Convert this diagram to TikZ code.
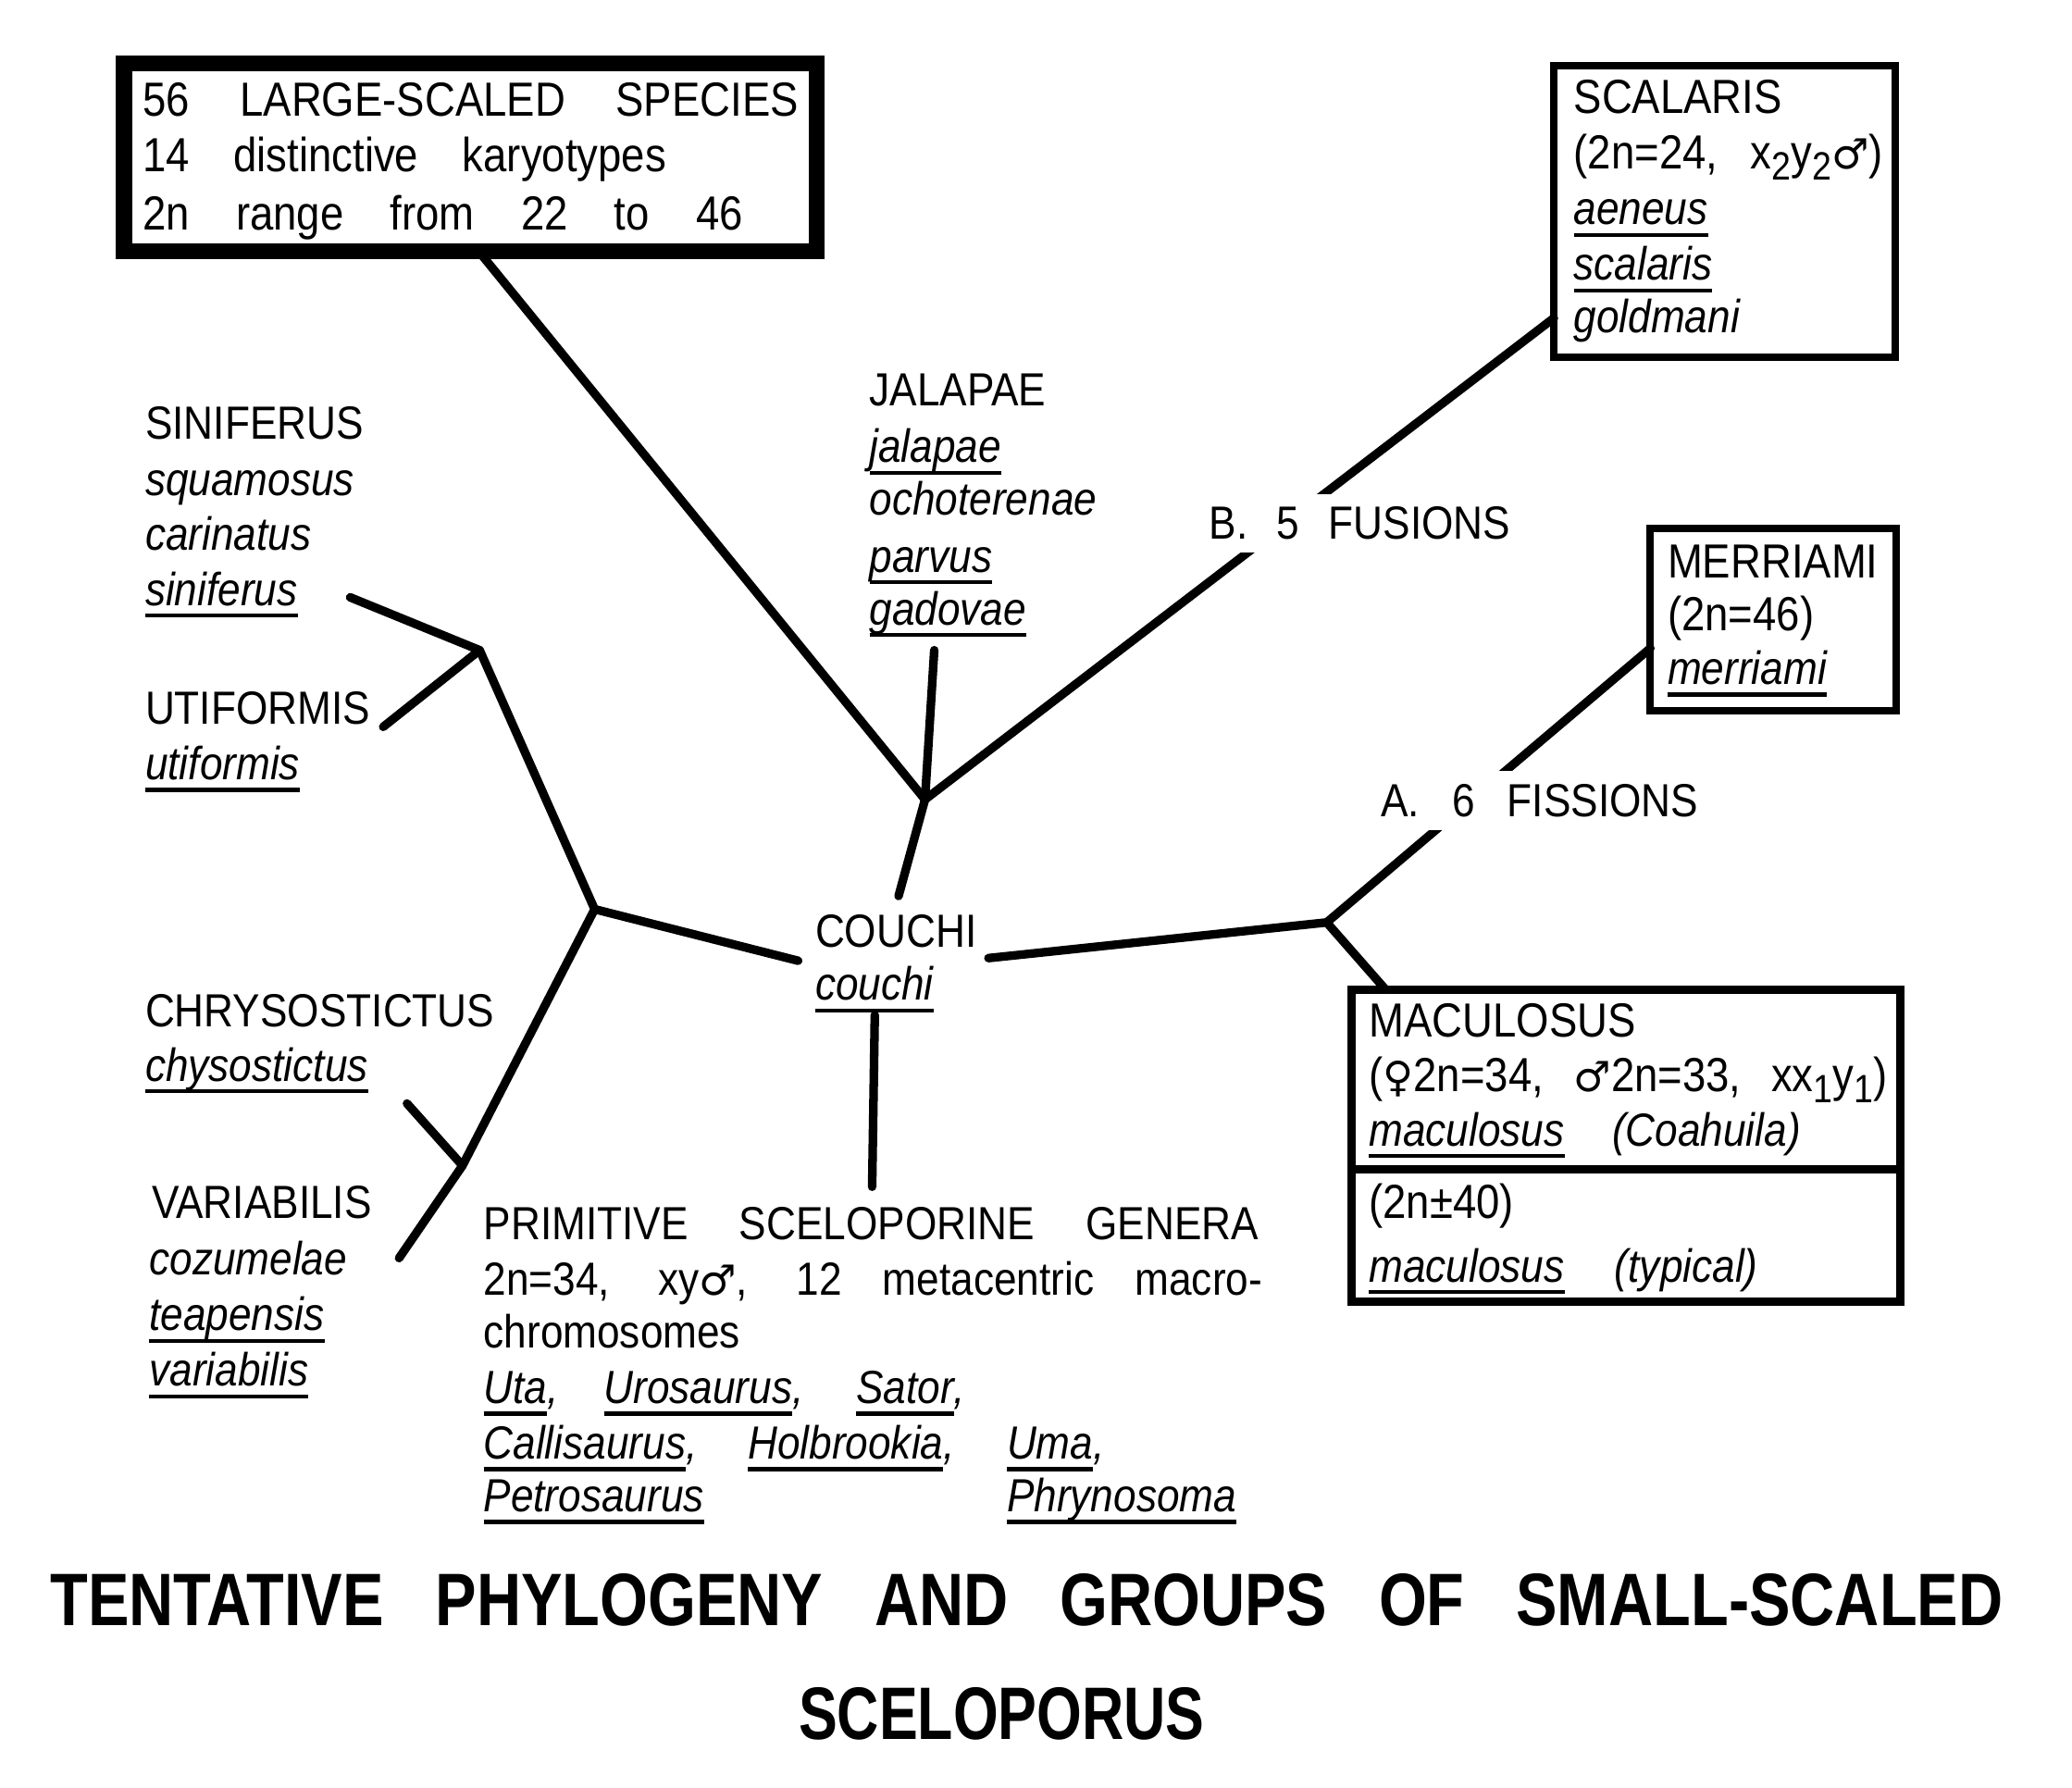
\documentclass[tikz,border=0pt]{standalone}
\usepackage{fontspec}
\setmainfont{Liberation Sans}[FakeStretch=0.88]
\newfontfamily\titlefont{Liberation Sans}[FakeStretch=0.83]
\newfontfamily\subtitlefont{Liberation Sans}[FakeStretch=0.78]
\newfontfamily\symfont{DejaVu Sans}
\newsavebox\undbox
\newcommand\und[1]{\sbox\undbox{#1}\rlap{\rule[-2.6pt]{\wd\undbox}{0.85pt}}\usebox\undbox}
\newcommand\sub[1]{\raisebox{-2.4pt}{\fontsize{8.5}{8.5}\selectfont #1}}
\newcommand\male{{\symfont\fontsize{9}{9}\selectfont ♂}}
\newcommand\female{{\symfont\fontsize{9}{9}\selectfont ♀}}
\begin{document}
\begin{tikzpicture}[x=0.01cm,y=-0.01cm,
  txt/.style={anchor=base west,inner sep=0pt,outer sep=0pt,font=\fontsize{10}{12}\selectfont},
  bigtxt/.style={txt,font=\fontsize{10.3}{12}\selectfont},
  sp/.style={txt,font=\fontsize{10}{12}\selectfont\itshape},
  lab/.style={txt,fill=white,inner ysep=2.8pt},
  ttl/.style={inner sep=0pt,outer sep=0pt,font=\titlefont\bfseries\fontsize{16}{18}\selectfont},
  subttl/.style={inner sep=0pt,outer sep=0pt,font=\subtitlefont\bfseries\fontsize{16}{18}\selectfont},
  branch/.style={line width=1.85pt,line cap=round,line join=round},
  boxline/.style={draw,inner sep=0pt,outer sep=0pt}
]
\path[fill=white,use as bounding box] (0,0) rectangle (1568,1353);

% boxes
\node[boxline,line width=3.4pt,minimum width=5.24cm,minimum height=1.42cm] (big) at (356,119) {};
\node[boxline,line width=1.6pt,minimum width=2.58cm,minimum height=2.20cm] (scal) at (1305,160) {};
\node[boxline,line width=1.6pt,minimum width=1.86cm,minimum height=1.38cm] (mer) at (1342,469) {};
\node[boxline,line width=1.75pt,minimum width=4.15cm,minimum height=2.36cm] (mac) at (1230.5,867) {};
\coordinate (divy) at (0,885);
\draw[line width=1.75pt] (mac.west |- divy) -- (mac.east |- divy);

% junctions and free ends
\coordinate (j1) at (700,605);
\coordinate (jalfoot) at (707,492);
\coordinate (couchitop) at (680,678);
\coordinate (j2) at (1004,698);
\coordinate (couchiright) at (748,725);
\coordinate (couchibottom) at (662,768);
\coordinate (primtop) at (660,898);
\coordinate (couchileft) at (604,727);
\coordinate (j3) at (450,688);
\coordinate (j4) at (363,492);
\coordinate (sinend) at (265,452);
\coordinate (utiend) at (290,550);
\coordinate (j5) at (350,882);
\coordinate (chrend) at (308,835);
\coordinate (varend) at (302,952);

% branches
\draw[branch] (big.-85) -- (j1);
\draw[branch] (jalfoot) -- (j1);
\draw[branch] (j1) -- (scal.212);
\draw[branch] (j1) -- (couchitop);
\draw[branch] (couchiright) -- (j2) -- (mer.193);
\draw[branch] (j2) -- (mac.147);
\draw[branch] (couchibottom) -- (primtop);
\draw[branch] (couchileft) -- (j3) -- (j4) -- (sinend);
\draw[branch] (j4) -- (utiend);
\draw[branch] (j3) -- (j5) -- (chrend);
\draw[branch] (j5) -- (varend);

% large-scaled box text
\node[bigtxt] (b1) at (108,88) {\makebox[4.96cm][s]{56 LARGE-SCALED SPECIES}};
\node[bigtxt] (b2) at (108,130) {\makebox[3.96cm][s]{14 distinctive karyotypes}};
\node[bigtxt] (b3) at (108,174) {\makebox[4.54cm][s]{2n range from 22 to 46}};

% scalaris
\node[bigtxt] (sc1) at (1191,86) {SCALARIS};
\node[bigtxt] (sc2) at (1191,128) {\makebox[2.34cm][s]{(2n=24, x\sub{2}y\sub{2}\male)}};
\node[sp] (sc3) at (1191,170) {\und{aeneus}};
\node[sp] (sc4) at (1191,212) {\und{scalaris}};
\node[sp] (sc5) at (1191,252) {goldmani};

% jalapae
\node[txt] (ja1) at (658,307) {JALAPAE};
\node[sp] (ja2) at (658,350) {\und{jalapae}};
\node[sp] (ja3) at (658,390) {ochoterenae};
\node[sp] (ja4) at (658,433) {\und{parvus}};
\node[sp] (ja5) at (658,473) {\und{gadovae}};

% labels on branches
\node[lab] (fus) at (915,408) {\makebox[2.28cm][s]{B. 5 FUSIONS}};
\node[lab] (fis) at (1045,618) {\makebox[2.40cm][s]{A. 6 FISSIONS}};

% merriami
\node[bigtxt] (me1) at (1262,437) {MERRIAMI};
\node[bigtxt] (me2) at (1262,477) {(2n=46)};
\node[sp] (me3) at (1262,518) {\und{merriami}};

% siniferus
\node[txt] (si1) at (110,332) {SINIFERUS};
\node[sp] (si2) at (110,375) {squamosus};
\node[sp] (si3) at (110,416) {carinatus};
\node[sp] (si4) at (110,458) {\und{siniferus}};

% utiformis
\node[txt] (ut1) at (110,548) {UTIFORMIS};
\node[sp] (ut2) at (110,590) {\und{utiformis}};

% couchi
\node[txt] (co1) at (617,717) {COUCHI};
\node[sp] (co2) at (617,757) {\und{couchi}};

% chrysostictus
\node[txt] (ch1) at (110,777) {CHRYSOSTICTUS};
\node[sp] (ch2) at (110,818) {\und{chysostictus}};

% variabilis
\node[txt] (va1) at (115,922) {VARIABILIS};
\node[sp] (va2) at (113,965) {cozumelae};
\node[sp] (va3) at (113,1007) {\und{teapensis}};
\node[sp] (va4) at (113,1049) {\und{variabilis}};

% maculosus
\node[bigtxt] (ma1) at (1036,785) {MACULOSUS};
\node[bigtxt] (ma2) at (1036,826) {\makebox[3.92cm][s]{(\female2n=34, \male2n=33, xx\sub{1}y\sub{1})}};
\node[sp] (ma3) at (1036,867) {\und{maculosus}};
\node[sp] (ma4) at (1220,867) {(Coahuila)};
\node[bigtxt] (ma5) at (1036,922) {(2n±40)};
\node[sp] (ma6) at (1036,970) {\und{maculosus}};
\node[sp] (ma7) at (1222,970) {(typical)};

% primitive genera
\node[txt] (p1) at (366,938) {\makebox[5.86cm][s]{PRIMITIVE SCELOPORINE GENERA}};
\node[txt] (p2) at (366,980) {\makebox[5.89cm][s]{2n=34, xy\male, 12 metacentric macro-}};
\node[txt] (p3) at (366,1020) {chromosomes};
\node[sp] (p4a) at (366,1062) {\und{Uta},};
\node[sp] (p4b) at (457,1062) {\und{Urosaurus},};
\node[sp] (p4c) at (648,1062) {\und{Sator},};
\node[sp] (p5a) at (366,1104) {\und{Callisaurus},};
\node[sp] (p5b) at (566,1104) {\und{Holbrookia},};
\node[sp] (p5c) at (762,1104) {\und{Uma},};
\node[sp] (p6a) at (366,1144) {\und{Petrosaurus}};
\node[sp] (p6b) at (762,1144) {\und{Phrynosoma}};

% title
\node[ttl,anchor=base west] (t1) at (38,1230) {\makebox[14.77cm][s]{TENTATIVE PHYLOGENY AND GROUPS OF SMALL-SCALED}};
\node[subttl,anchor=base] (t2) at (758,1316) {SCELOPORUS};
\end{tikzpicture}
\end{document}
